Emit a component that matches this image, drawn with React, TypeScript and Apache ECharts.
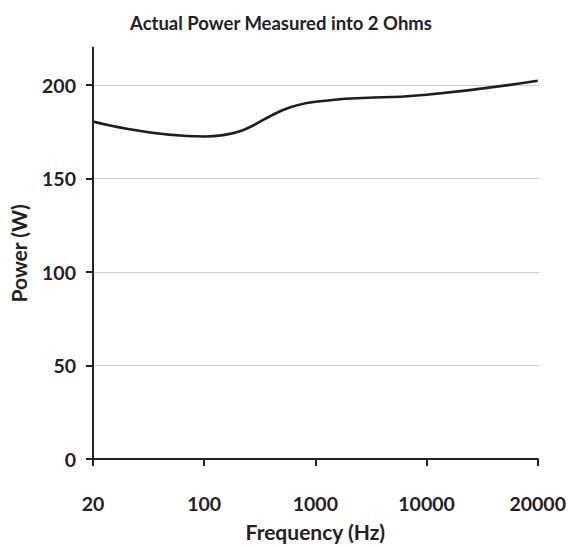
import React, { useEffect, useRef } from "react";
import * as echarts from "echarts";

const frequencies = ["20", "100", "1000", "10000", "20000"];
const powerValues = [180.5, 172.5, 191, 194.8, 202.3];
const yAxisTop = 220;
const yTickMax = 200;
const yTickInterval = 50;

const FONT = "Lato, 'Open Sans', sans-serif";

export default function App() {
  const ref = useRef<HTMLDivElement>(null);
  useEffect(() => {
    if (!ref.current) return;
    const chart = echarts.init(ref.current, undefined, { renderer: "svg" });
    const bottom = 89;
    const plotBottom = 548 - bottom;
    const pxPerUnit = 1.87;
    const mainTop = plotBottom - yAxisTop * pxPerUnit;
    const tickTop = plotBottom - yTickMax * pxPerUnit;
    chart.setOption({
      animation: false,
      backgroundColor: "#ffffff",
      title: {
        text: "Actual Power Measured into 2 Ohms",
        left: 276,
        textAlign: "center",
        top: 8,
        textStyle: { fontFamily: FONT, fontSize: 18.5, fontWeight: "bold", color: "#222" },
      },
      grid: [
        { left: 93, right: 30, top: mainTop, bottom, containLabel: false },
        { left: 93, right: 30, top: tickTop, bottom, containLabel: false },
      ],
      xAxis: [
        {
          type: "category",
          gridIndex: 0,
          data: frequencies,
          boundaryGap: false,
          name: "Frequency (Hz)",
          nameLocation: "middle",
          nameGap: 62,
          nameTextStyle: { fontFamily: FONT, fontSize: 21, fontWeight: "bold", color: "#222" },
          axisLine: { lineStyle: { color: "#222", width: 2 } },
          axisTick: { show: true, length: 7, lineStyle: { color: "#222", width: 2 } },
          axisLabel: {
            margin: 34,
            fontFamily: FONT,
            fontSize: 19.5,
            fontWeight: "bold",
            color: "#222",
          },
          splitLine: { show: false },
          z: 5,
        },
        {
          type: "category",
          gridIndex: 1,
          data: frequencies,
          boundaryGap: false,
          show: false,
        },
      ],
      yAxis: [
        {
          type: "value",
          gridIndex: 0,
          min: 0,
          max: yAxisTop,
          name: "Power (W)",
          nameLocation: "middle",
          nameGap: 64,
          nameRotate: 90,
          nameTextStyle: {
            fontFamily: FONT,
            fontSize: 21,
            fontWeight: "bold",
            color: "#222",
          },
          axisLine: { show: true, lineStyle: { color: "#222", width: 2 } },
          axisTick: { show: false },
          axisLabel: { show: false },
          splitLine: { show: false },
          z: 5,
        },
        {
          type: "value",
          gridIndex: 1,
          min: 0,
          max: yTickMax,
          interval: yTickInterval,
          axisLine: { show: true, lineStyle: { color: "#222", width: 2 } },
          axisTick: { show: true, length: 7, lineStyle: { color: "#222", width: 2 } },
          axisLabel: {
            margin: 17,
            fontFamily: FONT,
            fontSize: 19.5,
            fontWeight: "bold",
            color: "#222",
          },
          splitLine: { show: true, lineStyle: { color: "#cfcfcf", width: 1 } },
        },
      ],
      series: [
        {
          type: "line",
          xAxisIndex: 0,
          yAxisIndex: 0,
          data: powerValues,
          smooth: 0.5,
          symbol: "none",
          lineStyle: { color: "#1e1e1e", width: 2.6 },
          z: 10,
        },
      ],
    });
    return () => chart.dispose();
  }, []);
  return (
    <div
      ref={ref}
      style={{ position: "fixed", left: 0, top: 0, width: 569, height: 548 }}
    />
  );
}
